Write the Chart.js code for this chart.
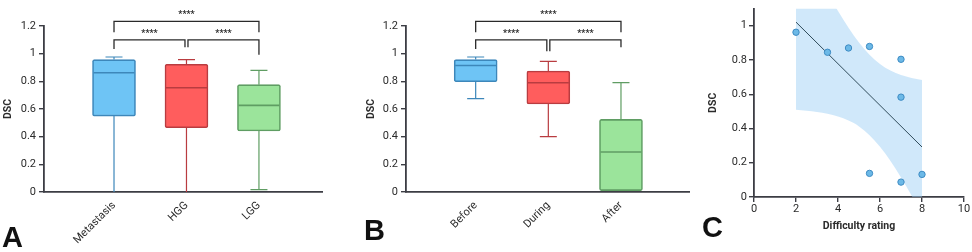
<!DOCTYPE html>
<html>
<head>
<meta charset="utf-8">
<script src="https://cdn.jsdelivr.net/npm/chart.js@4.4.0/dist/chart.umd.min.js"></script>
<style>
  body { margin: 0; background: #fff; width: 972px; height: 252px; position: relative; overflow: hidden; }
  canvas { position: absolute; top: 0; }
  .panel { position: absolute; font: bold 29px "Liberation Sans", Arial, sans-serif; color: #111; line-height: 1; }
</style>
</head>
<body>
<canvas id="chartA" width="330" height="252" style="left:0px"></canvas>
<canvas id="chartB" width="360" height="252" style="left:330px"></canvas>
<canvas id="chartC" width="282" height="252" style="left:690px"></canvas>
<div class="panel" style="left:2px;top:223px">A</div>
<div class="panel" style="left:364px;top:216px">B</div>
<div class="panel" style="left:702px;top:213px">C</div>
<script>
// panel A - DSC by tumour type
var typeLabels = ['Metastasis', 'HGG', 'LGG'];
var typeMin = [0, 0, 0.017];
var typeQ1 = [0.549, 0.465, 0.441];
var typeMedian = [0.862, 0.754, 0.626];
var typeQ3 = [0.957, 0.923, 0.776];
var typeMax = [0.976, 0.957, 0.879];

// panel B - DSC by phase
var phaseLabels = ['Before', 'During', 'After'];
var phaseMin = [0.675, 0.400, 0.010];
var phaseQ1 = [0.797, 0.636, 0.010];
var phaseMedian = [0.915, 0.790, 0.289];
var phaseQ3 = [0.957, 0.875, 0.525];
var phaseMax = [0.976, 0.944, 0.790];

var sigText = '****';
var dscTicks = [0, 0.2, 0.4, 0.6, 0.8, 1, 1.2];

// panel C - DSC vs difficulty rating
var difficulty = [2, 3.5, 4.5, 5.5, 7, 7, 5.5, 7, 8];
var difficultyDsc = [0.962, 0.845, 0.870, 0.879, 0.804, 0.583, 0.138, 0.087, 0.132];
var fitX = [2, 8];
var fitY = [1.021, 0.292];
var bandX = [2, 2.5, 3, 3.5, 4, 4.5, 5, 5.5, 6, 6.5, 7, 7.5, 8];
var bandUpper = [1.535, 1.418, 1.303, 1.192, 1.086, 0.988, 0.902, 0.831, 0.777, 0.738, 0.712, 0.695, 0.683];
var bandLower = [0.509, 0.504, 0.497, 0.486, 0.470, 0.446, 0.412, 0.361, 0.293, 0.210, 0.114, 0.009, -0.101];
var cDscTicks = [0, 0.2, 0.4, 0.6, 0.8, 1];
var difficultyTicks = [0, 2, 4, 6, 8, 10];

var axisColor = '#3c3d44';
var textColor = '#2b2b2b';
var boxFill = ['#6ec4f5', '#ff5d5d', '#9be49b'];
var boxLine = ['#3d87ba', '#b93c40', '#5f9d63'];

// brackets: category indexes, bar level, leg ends, star level
var bracketsA = [
  { from: 0, to: 1, y: 1.10, legs: [1.034, 1.046], nudge: [0, -1.5], star: 1.154 },
  { from: 1, to: 2, y: 1.10, legs: [1.046, 0.993], nudge: [1.5, 0], star: 1.154 },
  { from: 0, to: 2, y: 1.234, legs: [1.154, 1.154], nudge: [0, 0], star: 1.289 }
];
var bracketsB = [
  { from: 0, to: 1, y: 1.10, legs: [1.034, 1.017], nudge: [0, -1.5], star: 1.154 },
  { from: 1, to: 2, y: 1.10, legs: [1.017, 1.046], nudge: [1.5, 0], star: 1.154 },
  { from: 0, to: 2, y: 1.234, legs: [1.154, 1.154], nudge: [0, 0], star: 1.289 }
];

Chart.defaults.font.family = 'Roboto, sans-serif';
Chart.defaults.color = textColor;

function boxExtras(mins, meds, maxs, q1s, q3s, brackets) {
  return {
    id: 'boxExtras',
    afterDatasetsDraw: function (chart) {
      var ctx = chart.ctx;
      var y = chart.scales.y;
      var bars = chart.getDatasetMeta(0).data;
      ctx.save();
      bars.forEach(function (bar, i) {
        var half = bar.width / 2;
        var cap = 8.5;
        ctx.strokeStyle = boxLine[i];
        ctx.lineWidth = 1.2;
        ctx.beginPath();
        // upper whisker
        ctx.moveTo(bar.x, y.getPixelForValue(q3s[i]));
        ctx.lineTo(bar.x, y.getPixelForValue(maxs[i]));
        ctx.moveTo(bar.x - cap, y.getPixelForValue(maxs[i]));
        ctx.lineTo(bar.x + cap, y.getPixelForValue(maxs[i]));
        // lower whisker
        if (mins[i] < q1s[i]) {
          ctx.moveTo(bar.x, y.getPixelForValue(q1s[i]));
          ctx.lineTo(bar.x, y.getPixelForValue(mins[i]));
          if (mins[i] > 0.012) {
            ctx.moveTo(bar.x - cap, y.getPixelForValue(mins[i]));
            ctx.lineTo(bar.x + cap, y.getPixelForValue(mins[i]));
          }
        }
        ctx.stroke();
        // median
        ctx.lineWidth = 1.6;
        ctx.beginPath();
        ctx.moveTo(bar.x - half + 1, y.getPixelForValue(meds[i]));
        ctx.lineTo(bar.x + half - 1, y.getPixelForValue(meds[i]));
        ctx.stroke();
      });
      ctx.restore();
    },
    afterDraw: function (chart) {
      var ctx = chart.ctx;
      var x = chart.scales.x;
      var y = chart.scales.y;
      ctx.save();
      ctx.strokeStyle = '#2a2a2a';
      ctx.lineWidth = 1.3;
      ctx.fillStyle = '#2a2a2a';
      ctx.font = 'bold 9px Roboto, sans-serif';
      ctx.textAlign = 'center';
      ctx.textBaseline = 'middle';
      brackets.forEach(function (b) {
        var x1 = x.getPixelForValue(b.from + 1) + b.nudge[0];
        var x2 = x.getPixelForValue(b.to + 1) + b.nudge[1];
        var yb = y.getPixelForValue(b.y);
        ctx.beginPath();
        ctx.moveTo(x1, y.getPixelForValue(b.legs[0]));
        ctx.lineTo(x1, yb);
        ctx.lineTo(x2, yb);
        ctx.lineTo(x2, y.getPixelForValue(b.legs[1]));
        ctx.stroke();
        ctx.fillText(sigText, (x1 + x2) / 2, y.getPixelForValue(b.star) + 1);
      });
      ctx.restore();
    }
  };
}

function boxChart(id, labels, mins, q1s, meds, q3s, maxs, brackets, layout) {
  var boxes = labels.map(function (l, i) {
    return { x: i + 1, y: [q1s[i], q3s[i]] };
  });
  return new Chart(document.getElementById(id), {
    type: 'bar',
    data: {
      datasets: [{
        data: boxes,
        backgroundColor: boxFill,
        borderColor: boxLine,
        borderWidth: 1.6,
        borderRadius: 2,
        borderSkipped: false,
        barThickness: 43
      }]
    },
    options: {
      responsive: false,
      animation: false,
      layout: { padding: { left: layout.padLeft, right: layout.padRight, top: 26, bottom: 0 } },
      plugins: { legend: { display: false }, tooltip: { enabled: false } },
      scales: {
        x: {
          type: 'linear',
          offset: false,
          min: layout.xMin,
          max: layout.xMax,
          afterBuildTicks: function (scale) {
            scale.ticks = labels.map(function (l, i) { return { value: i + 1 }; });
          },
          afterFit: function (scale) { scale.height = 60; },
          grid: { display: false, drawTicks: false, offset: false },
          border: { display: true, color: axisColor, width: 1.8 },
          ticks: {
            autoSkip: false,
            minRotation: 45,
            maxRotation: 45,
            padding: 7,
            font: { size: 11 },
            callback: function (v) { return labels[v - 1]; }
          }
        },
        y: {
          min: 0,
          max: 1.2,
          afterBuildTicks: function (scale) {
            scale.ticks = dscTicks.map(function (v) { return { value: v }; });
          },
          afterFit: function (scale) { scale.width = layout.yWidth; },
          grid: { drawOnChartArea: false, drawTicks: true, tickLength: 5, color: axisColor, lineWidth: 1.4 },
          border: { display: true, color: axisColor, width: 1.8 },
          ticks: { padding: 3, font: { size: 11 }, callback: function (v) { return String(v); } },
          title: { display: true, text: 'DSC', font: { size: 10.5, weight: 'bold' }, padding: { top: 2, bottom: 0 } }
        }
      }
    },
    plugins: [boxExtras(mins, meds, maxs, q1s, q3s, brackets)]
  });
}

boxChart('chartA', typeLabels, typeMin, typeQ1, typeMedian, typeQ3, typeMax, bracketsA,
  { padLeft: 0, padRight: 8, yWidth: 44, xMin: 0.034, xMax: 3.87 });
boxChart('chartB', phaseLabels, phaseMin, phaseQ1, phaseMedian, phaseQ3, phaseMax, bracketsB,
  { padLeft: 33, padRight: 0, yWidth: 43, xMin: 0.041, xMax: 3.95 });

// panel C
function xy(xs, ys) {
  return xs.map(function (v, i) { return { x: v, y: ys[i] }; });
}

new Chart(document.getElementById('chartC'), {
  type: 'scatter',
  data: {
    datasets: [
      {
        data: xy(difficulty, difficultyDsc),
        backgroundColor: '#6cb9e7',
        borderColor: '#3e8bc3',
        borderWidth: 1,
        pointRadius: 3.2
      },
      {
        type: 'line',
        data: xy(fitX, fitY),
        borderColor: '#2f4b5a',
        borderWidth: 1,
        pointRadius: 0,
        fill: false
      },
      {
        type: 'line',
        data: xy(bandX, bandUpper),
        borderWidth: 0,
        borderColor: 'rgba(0,0,0,0)',
        pointRadius: 0,
        cubicInterpolationMode: 'monotone',
        backgroundColor: 'rgba(150,205,245,0.45)',
        fill: '+1'
      },
      {
        type: 'line',
        data: xy(bandX, bandLower),
        borderWidth: 0,
        borderColor: 'rgba(0,0,0,0)',
        pointRadius: 0,
        cubicInterpolationMode: 'monotone',
        fill: false
      }
    ]
  },
  options: {
    responsive: false,
    animation: false,
    layout: { padding: { left: 14, right: 8, top: 3, bottom: 19 } },
    plugins: { legend: { display: false }, tooltip: { enabled: false } },
    scales: {
      x: {
        type: 'linear',
        min: 0,
        max: 10,
        afterBuildTicks: function (scale) {
          scale.ticks = difficultyTicks.map(function (v) { return { value: v }; });
        },
        afterFit: function (scale) { scale.height = 36; },
        grid: { drawOnChartArea: false, drawTicks: true, tickLength: 5, color: axisColor, lineWidth: 1.4 },
        border: { display: true, color: axisColor, width: 1.8 },
        ticks: { padding: 1, font: { size: 11 }, maxRotation: 0 },
        title: { display: true, text: 'Difficulty rating', font: { size: 10.5, weight: 'bold' }, padding: { top: 3, bottom: 0 } }
      },
      y: {
        min: 0,
        max: 1.1,
        afterBuildTicks: function (scale) {
          scale.ticks = cDscTicks.map(function (v) { return { value: v }; });
        },
        afterFit: function (scale) { scale.width = 50; },
        grid: { drawOnChartArea: false, drawTicks: true, tickLength: 5, color: axisColor, lineWidth: 1.4 },
        border: { display: true, color: axisColor, width: 1.8 },
        ticks: { padding: 2, font: { size: 11 }, callback: function (v) { return String(v); } },
        title: { display: true, text: 'DSC', font: { size: 10.5, weight: 'bold' }, padding: { top: 3, bottom: 0 } }
      }
    }
  }
});
</script>
</body>
</html>
